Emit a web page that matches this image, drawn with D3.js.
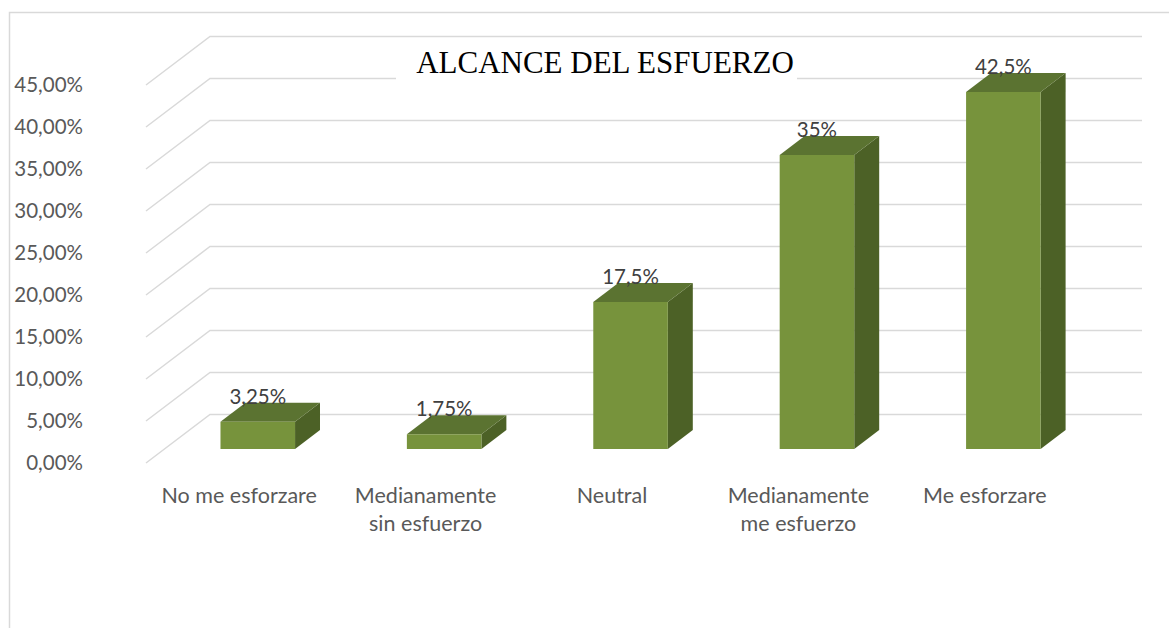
<!DOCTYPE html>
<html>
<head>
<meta charset="utf-8">
<script src="https://cdn.jsdelivr.net/npm/d3@7"></script>
<style>
  html, body { margin: 0; padding: 0; background: #fff; }
  svg { display: block; }
</style>
</head>
<body>
<svg id="chart" width="1169" height="628"></svg>
<script>
const title = "ALCANCE DEL ESFUERZO";
const categories = ["No me esforzare", "Medianamente sin esfuerzo", "Neutral", "Medianamente me esfuerzo", "Me esforzare"];
const values = [0.0325, 0.0175, 0.175, 0.35, 0.425];
const yTicks = [0, 0.05, 0.10, 0.15, 0.20, 0.25, 0.30, 0.35, 0.40, 0.45];

const svg = d3.select("#chart");
const locale = d3.formatLocale({decimal: ",", thousands: ".", grouping: [3], currency: ["", "€"]});
const tickFmt = locale.format(".2%");
const valFmt = locale.format(".4~%");

// geometry
const frontLeft = 146, frontRight = 1078;
const depthDX = 64, depthDY = -48.5;
const barD1 = 0.29, barD2 = 0.68;

const y = d3.scaleLinear().domain([0, 0.45]).range([463, 85]);
const x = d3.scaleBand().domain(categories).range([frontLeft, frontRight])
  .paddingInner(0.6).paddingOuter(0.3);

const proj = (px, v, d) => [px + depthDX * d, y(v) + depthDY * d];

// chart border
svg.append("rect").attr("x", 9.5).attr("y", 12.5).attr("width", 1300).attr("height", 800)
  .attr("fill", "#fff").attr("stroke", "#d9d9d9").attr("stroke-width", 1.5);

// gridlines
const grid = svg.append("g").attr("fill", "none").attr("stroke", "#d9d9d9").attr("stroke-width", 1.5);
yTicks.forEach(t => {
  const p0 = proj(frontLeft, t, 0), p1 = proj(frontLeft, t, 1), p2 = proj(frontRight, t, 1);
  grid.append("path").attr("d", `M${p0[0]},${p0[1]}L${p1[0]},${p1[1]}L${p2[0]},${p2[1]}`);
});

// title box
svg.append("rect").attr("x", 396).attr("y", 38).attr("width", 401).attr("height", 44).attr("fill", "#fff");
svg.append("text").attr("x", 605).attr("y", 73).attr("text-anchor", "middle")
  .attr("font-family", "'Liberation Serif', 'Times New Roman', serif").attr("font-size", 31)
  .attr("fill", "#000").text(title);

// y labels
svg.append("g").selectAll("text").data(yTicks).join("text")
  .attr("x", 83).attr("y", d => y(d)).attr("dy", "0.35em").attr("text-anchor", "end")
  .attr("font-family", "Lato, 'Open Sans', sans-serif").attr("font-size", 20.5).attr("fill", "#595959")
  .text(d => tickFmt(d));

// bars
const bars = svg.append("g");
categories.forEach((c, i) => {
  const v = values[i];
  const x0 = x(c), x1 = x(c) + x.bandwidth();
  const poly = pts => "M" + pts.map(p => p.join(",")).join("L") + "Z";
  // side
  bars.append("path").attr("fill", "#4c6126")
    .attr("d", poly([proj(x1, 0, barD1), proj(x1, 0, barD2), proj(x1, v, barD2), proj(x1, v, barD1)]));
  // top
  bars.append("path").attr("fill", "#5b7331")
    .attr("d", poly([proj(x0, v, barD1), proj(x1, v, barD1), proj(x1, v, barD2), proj(x0, v, barD2)]));
  // front
  bars.append("path").attr("fill", "#77933c")
    .attr("d", poly([proj(x0, 0, barD1), proj(x1, 0, barD1), proj(x1, v, barD1), proj(x0, v, barD1)]));
  // value label: centred on the front face, baseline at the back top edge
  const fx = proj((x0 + x1) / 2, v, barD1)[0];
  const by = proj((x0 + x1) / 2, v, barD2)[1];
  bars.append("text").attr("x", fx).attr("y", by + 1).attr("text-anchor", "middle")
    .attr("font-family", "Lato, 'Open Sans', sans-serif").attr("font-size", 20.5).attr("fill", "#404040")
    .text(valFmt(v));
});

// category labels with wrapping
const catG = svg.append("g");
categories.forEach(c => {
  const cx = x(c) + x.bandwidth() / 2;
  const t = catG.append("text").attr("text-anchor", "middle")
    .attr("font-family", "Lato, 'Open Sans', sans-serif").attr("font-size", 21.5).attr("fill", "#595959");
  const words = c.split(" ");
  let line = [], lineNo = 0;
  let ts = t.append("tspan").attr("x", cx).attr("y", 495).attr("dy", "0.35em");
  words.forEach(w => {
    line.push(w);
    ts.text(line.join(" "));
    if (ts.node().getComputedTextLength() > 160 && line.length > 1) {
      line.pop();
      ts.text(line.join(" "));
      line = [w];
      lineNo++;
      ts = t.append("tspan").attr("x", cx).attr("y", 495 + 28 * lineNo).attr("dy", "0.35em").text(w);
    }
  });
});
</script>
</body>
</html>
